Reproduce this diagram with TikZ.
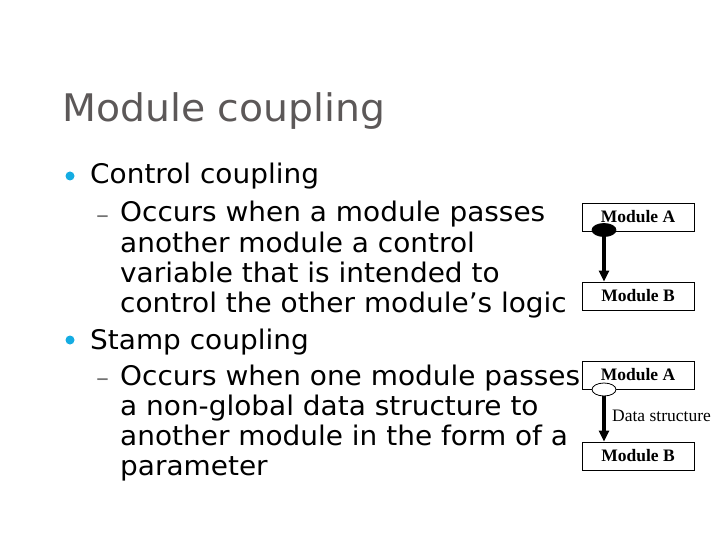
\documentclass[tikz,border=0pt]{standalone}
\usepackage{fontspec}
\setmainfont{DejaVu Sans}[FakeStretch=1.035]
\newfontfamily\tnr{Liberation Serif}
\usetikzlibrary{shapes.geometric,arrows.meta}
\definecolor{titlegrey}{RGB}{92,88,88}
\definecolor{bulletblue}{RGB}{20,172,226}
\tikzset{
  title/.style={anchor=base west,inner sep=0pt,font=\fontsize{38}{44}\selectfont,text=titlegrey},
  body/.style={anchor=base west,inner sep=0pt,font=\fontsize{27}{30}\selectfont,text=black},
  dashmark/.style={anchor=base west,inner sep=0pt,font=\fontsize{25}{30}\selectfont,text=black!55},
  bul/.style={circle,fill=bulletblue,inner sep=0pt,minimum size=9pt},
  modbox/.style={draw=black,line width=0.8pt,minimum width=112pt,minimum height=28pt,inner sep=0pt,font=\tnr\bfseries\fontsize{17.5}{20}\selectfont},
  couple/.style={ellipse,draw=black,line width=0.8pt,minimum width=24pt,minimum height=13pt,inner sep=0pt},
  arr/.style={line width=3.4pt,-{Triangle[length=11pt,width=10pt]}},
  lbl/.style={anchor=west,inner sep=0pt,font=\tnr\fontsize{17.5}{20}\selectfont}
}
\begin{document}
\begin{tikzpicture}[x=1pt,y=-1pt]
\useasboundingbox (0,0) rectangle (720,540);
\node[title] (t) at (62,122) {Module coupling};
% bullets
\node[bul] (b1) at (70,176) {};
\node[body] (l1) at (90,184) {Control coupling};
\node[dashmark] (d1) at (96,223) {–};
\node[body] (l2) at (120,222) {Occurs when a module passes};
\node[body] (l3) at (120,252) {another module a control};
\node[body] (l4) at (120,282) {variable that is intended to};
\node[body] (l5) at (120,312) {control the other module’s logic};
\node[bul] (b2) at (70,340) {};
\node[body] (l6) at (90,349) {Stamp coupling};
\node[dashmark] (d2) at (96,386) {–};
\node[body] (l7) at (120,385) {Occurs when one module passes};
\node[body] (l8) at (120,415) {a non-global data structure to};
\node[body] (l9) at (120,445) {another module in the form of a};
\node[body] (l10) at (120,475) {parameter};
% control coupling diagram
\node[modbox] (ma1) at (638,217) {Module A};
\node[modbox] (mb1) at (638,296) {Module B};
\node[couple,fill=black] (e1) at (604,230) {};
\draw[arr] (e1.center) -- (e1.center |- mb1.north);
% stamp coupling diagram
\node[modbox] (ma2) at (638,375) {Module A};
\node[modbox] (mb2) at (638,456) {Module B};
\coordinate (e2c) at (604,389.5);
\draw[arr] (e2c) -- (e2c |- mb2.north);
\node[couple,fill=white] (e2) at (e2c) {};
\node[lbl] (ds) at (612,416) {Data structure};
\end{tikzpicture}
\end{document}
